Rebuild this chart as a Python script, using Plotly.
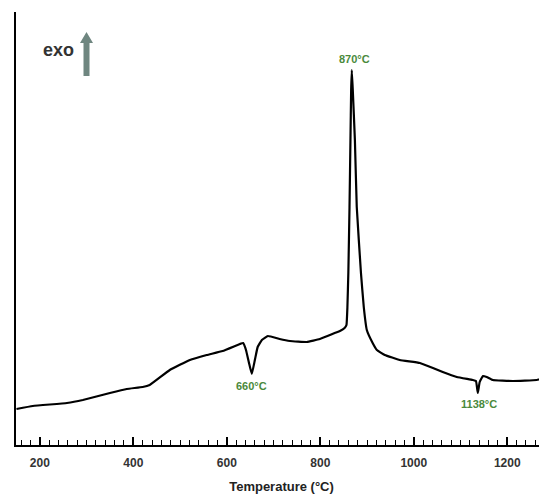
import plotly.graph_objects as go

# DTA curve (temperature in °C, signal in arbitrary units)
temperature = [150, 185, 258, 292, 350, 386, 420, 435, 478, 521, 557, 591, 628, 635,
               641, 647, 653.5, 660, 666, 675, 688, 713, 735, 771, 799, 831, 842, 852,
               856, 858, 860, 862.5, 864.5, 866, 867.4, 869.5, 874, 878, 887, 893, 899.5,
               912, 921, 938, 970, 1013, 1041, 1062, 1092, 1126, 1133, 1137, 1141, 1148,
               1156, 1169, 1212, 1263, 1285]
signal = [36, 39, 42, 45, 52, 56, 58, 60, 75, 85, 90, 94, 101, 102,
          95, 83, 71, 85, 98, 105, 109, 106, 104, 103, 106, 112, 114, 117,
          120, 138, 172, 238, 305, 355, 375, 355, 305, 238, 172, 138, 115,
          102, 95, 90, 85, 82, 77, 73, 68, 65, 64, 52, 63, 69,
          68, 65, 64, 65, 68]

peak_labels = ["870°C", "660°C", "1138°C"]
peak_label_x = [874, 652, 1139]
peak_label_y = [386, 59, 41]

tick_values = [200, 400, 600, 800, 1000, 1200]
tick_text = ["200", "400", "600", "800", "1000", "1200"]

FONT = "Liberation Sans, Arial, sans-serif"
GREEN = "#4a8a3c"

fig = go.Figure()
fig.add_trace(go.Scatter(x=temperature, y=signal, mode="lines",
                         line=dict(color="black", width=2.2, shape="spline", smoothing=0.3),
                         hoverinfo="skip"))

for txt, xx, yy in zip(peak_labels, peak_label_x, peak_label_y):
    fig.add_annotation(x=xx, y=yy, text=f"<b>{txt}</b>", showarrow=False,
                       xanchor="center", yanchor="middle",
                       font=dict(family=FONT, size=11, color=GREEN))

# plot area in page pixels: left 16, right 547, top 12, bottom 445
L, R, T, B = 16, 547, 12, 445
def px(x):
    return (x - L) / (R - L)
def py(y):
    return (B - y) / (B - T)

fig.add_annotation(xref="paper", yref="paper", x=px(58), y=py(50), text="<b>exo</b>",
                   showarrow=False, xanchor="center", yanchor="middle",
                   font=dict(family=FONT, size=18, color="#333333"))

arrow_path = (f"M {px(83.5)} {py(76)} L {px(89.5)} {py(76)} L {px(89.5)} {py(43)} "
              f"L {px(93)} {py(43)} L {px(86.5)} {py(32)} L {px(80)} {py(43)} "
              f"L {px(83.5)} {py(43)} Z")
fig.add_shape(type="path", xref="paper", yref="paper", path=arrow_path,
              fillcolor="#6f8680", line=dict(width=0))

# the page body has an 8 px margin, so the figure sits at (8, 8)
OFF = 8
fig.update_layout(
    width=547 - OFF, height=494 - OFF,
    margin=dict(l=L - OFF, r=0, t=T - OFF, b=494 - B),
    paper_bgcolor="white", plot_bgcolor="white",
    showlegend=False,
    xaxis=dict(
        range=[149, 1285],
        tickvals=tick_values, ticktext=[f"<b>{t}</b>" for t in tick_text],
        ticks="inside", ticklen=8, tickwidth=1.5, tickcolor="black",
        ticklabelstandoff=6,
        minor=dict(dtick=20, tick0=0, ticks="inside", ticklen=5, tickwidth=1.2,
                   tickcolor="black", showgrid=False),
        showline=True, linecolor="black", linewidth=2,
        showgrid=False, zeroline=False,
        tickfont=dict(family=FONT, size=12, color="#333333"),
        title=dict(text="<b>Temperature (°C)</b>", standoff=16,
                   font=dict(family=FONT, size=13, color="#222222")),
        automargin=False,
    ),
    yaxis=dict(
        range=[0, 433],
        showline=True, linecolor="black", linewidth=2,
        showticklabels=False, ticks="", showgrid=False, zeroline=False,
        automargin=False,
    ),
)

fig.write_html("out.html")
